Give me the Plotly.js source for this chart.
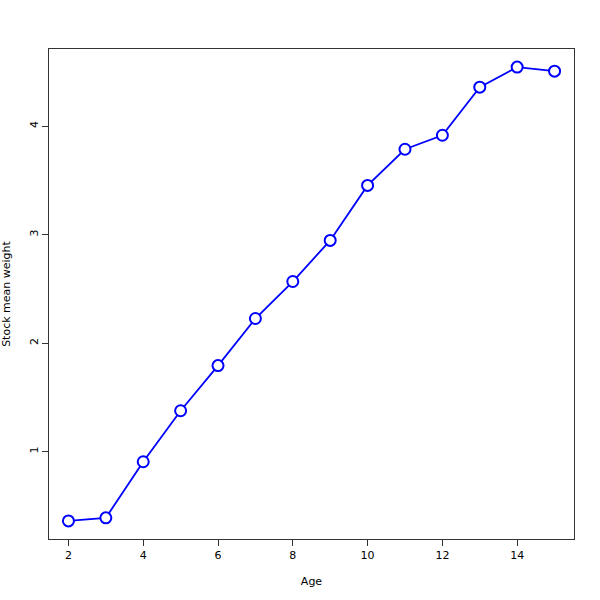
<!DOCTYPE html>
<html><head><meta charset="utf-8">
<script src="https://cdn.plot.ly/plotly-3.0.1.min.js"></script>
<style>body{margin:0;background:#fff}#c{width:600px;height:600px}</style>
</head><body><div id="c"></div>
<script>
const ages = [2,3,4,5,6,7,8,9,10,11,12,13,14,15];
const weights = [0.363,0.391,0.908,1.378,1.794,2.228,2.569,2.948,3.455,3.788,3.917,4.36,4.545,4.508];
const xTicks = [2,4,6,8,10,12,14];
const yTicks = [1,2,3,4];

Plotly.newPlot('c', [{
  x: ages, y: weights, type: 'scatter', mode: 'lines+markers',
  line: {color: '#0000ff', width: 1.8},
  marker: {symbol: 'circle', size: 11, color: '#ffffff', line: {color: '#0000ff', width: 2}},
  hoverinfo: 'skip'
}], {
  width: 600, height: 600,
  margin: {l: 49, r: 26, t: 49, b: 61},
  paper_bgcolor: '#fff', plot_bgcolor: '#fff',
  showlegend: false,
  font: {family: 'DejaVu Sans', size: 11, color: '#000'},
  xaxis: {
    range: [1.48, 15.52], tickvals: xTicks, ticktext: xTicks.map(String),
    showgrid: false, zeroline: false, showline: true, mirror: true,
    linecolor: '#333', linewidth: 1, ticks: 'outside', ticklen: 6, tickcolor: '#333',
    tickfont: {size: 11},
    title: {text: 'Age', font: {size: 11}, standoff: 16}
  },
  yaxis: {
    range: [0.196, 4.712], tickvals: yTicks, ticktext: yTicks.map(String),
    showgrid: false, zeroline: false, showline: true, mirror: true,
    linecolor: '#333', linewidth: 1, ticks: 'outside', ticklen: 6, tickcolor: '#333',
    tickangle: -90, tickfont: {size: 11},
    title: {text: 'Stock mean weight', font: {size: 11}, standoff: 14}
  }
}, {displayModeBar: false, staticPlot: true});
</script></body></html>
